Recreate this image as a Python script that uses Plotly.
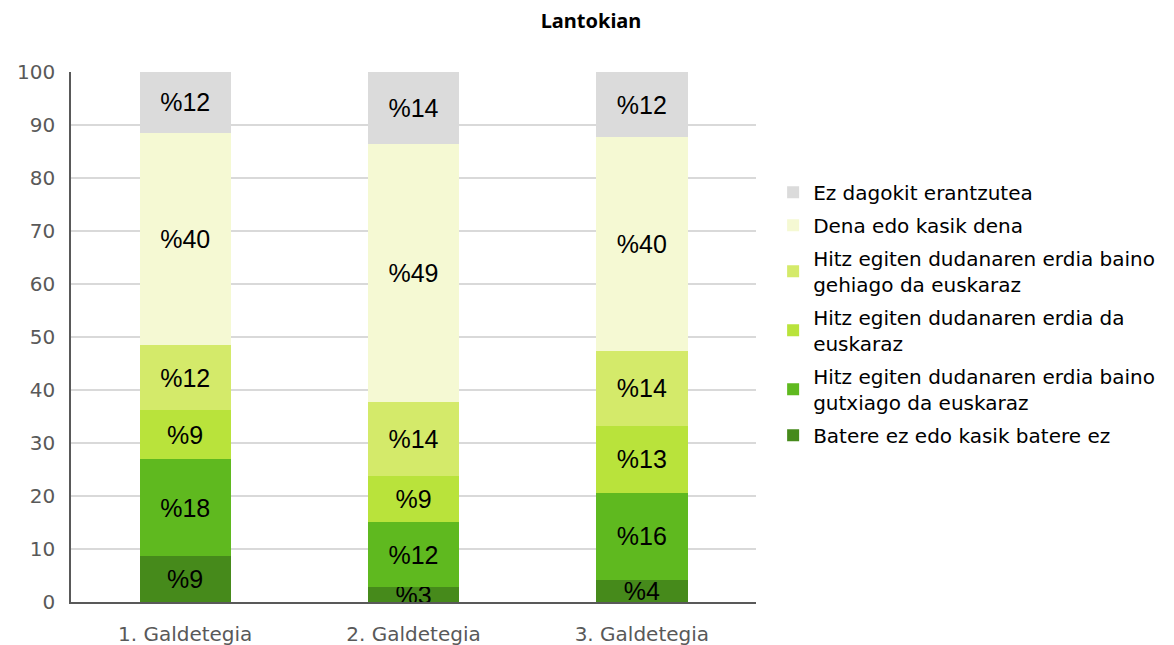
import plotly.graph_objects as go

categories = ["1. Galdetegia", "2. Galdetegia", "3. Galdetegia"]
series_names = [
    "Batere ez edo kasik batere ez",
    "Hitz egiten dudanaren erdia baino<br>gutxiago da euskaraz",
    "Hitz egiten dudanaren erdia da<br>euskaraz",
    "Hitz egiten dudanaren erdia baino<br>gehiago da euskaraz",
    "Dena edo kasik dena",
    "Ez dagokit erantzutea",
]
batere_ez = [8.6, 2.8, 4.2]
gutxiago = [18.3, 12.3, 16.4]
erdia = [9.4, 8.6, 12.6]
gehiago = [12.1, 14.1, 14.2]
dena = [40.1, 48.6, 40.3]
ez_dagokit = [11.5, 13.6, 12.3]
colors = ["#468A1B", "#5FB91F", "#B9E33B", "#D4EA6A", "#F5F9D3", "#DBDBDB"]

series_values = [batere_ez, gutxiago, erdia, gehiago, dena, ez_dagokit]

fig = go.Figure()
for i, (name, vals, col) in enumerate(zip(series_names, series_values, colors)):
    fig.add_trace(go.Bar(
        x=categories, y=vals, name=name, legendgroup="g%d" % i, legendrank=100 - i,
        marker=dict(color=col, line=dict(width=0)),
        text=["%" + str(round(v)) for v in vals],
        textposition="inside", insidetextanchor="middle",
        textfont=dict(family="Liberation Sans, Arial", size=25, color="#000000"),
        hoverinfo="skip",
    ))

# page body has an 8px margin, so the figure is sized to fit the window
fig.update_layout(
    barmode="stack", bargap=0.6,
    width=1166, height=637,
    margin=dict(l=63, r=418, t=64, b=43),
    paper_bgcolor="white", plot_bgcolor="white",
    uniformtext=dict(minsize=25, mode="show"),
    title=dict(text="<b>Lantokian</b>", x=0.5, xanchor="center", y=0.979, yanchor="middle",
               font=dict(family="Noto Sans", size=20, color="#000000")),
    font=dict(family="DejaVu Sans", color="#595959"),
    legend=dict(x=1.025, xanchor="left", y=0.81, yanchor="top", traceorder="grouped",
                font=dict(family="DejaVu Sans", size=20, color="#000000"),
                itemwidth=30, tracegroupgap=4),
    showlegend=True,
)
fig.update_yaxes(range=[0, 100], dtick=10, showgrid=True, gridcolor="#D9D9D9", gridwidth=1.5,
                 showline=True, linecolor="#595959", linewidth=1.5, zeroline=False,
                 tickfont=dict(family="DejaVu Sans", size=20, color="#595959"),
                 ticks="", ticklabelstandoff=10, automargin=False)
fig.update_xaxes(showline=True, linecolor="#595959", linewidth=1.5,
                 tickfont=dict(family="DejaVu Sans", size=20, color="#595959"),
                 ticks="", ticklabelstandoff=13, automargin=False)

fig.write_html("out.html")
